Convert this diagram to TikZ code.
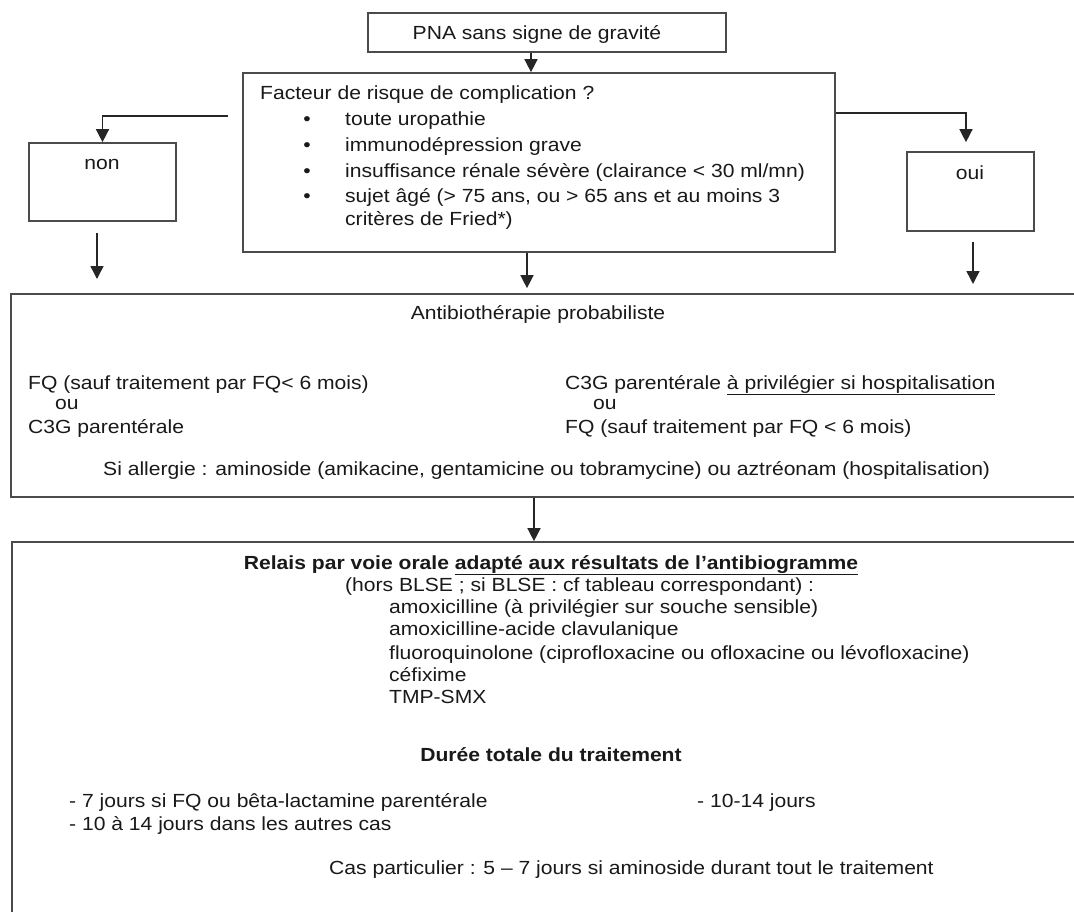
\documentclass[tikz,border=0pt]{standalone}
\usepackage{fontspec}
\setmainfont{Liberation Sans}[FakeStretch=1.11]
\usetikzlibrary{arrows.meta,fit}
\definecolor{ln}{RGB}{75,75,75}
\definecolor{tx}{RGB}{25,25,25}
\newcommand{\fs}{\fontsize{19}{22}\selectfont}
\tikzset{
  box/.style={draw=ln, line width=1.7pt, inner sep=0pt, fill=none},
  txt/.style={inner sep=0pt, anchor=base west, font=\fs, text=tx},
  ctxt/.style={inner sep=0pt, anchor=base, font=\fs, text=tx},
  arr/.style={draw=black!85, line width=1.5pt, -{Triangle[length=13pt,width=13pt]}},
  plain/.style={draw=ln, line width=1.6pt}
}
\begin{document}
\begin{tikzpicture}[x=1pt,y=-1pt]
\useasboundingbox (0,0) rectangle (1074,911);
\clip (0,0) rectangle (1074,911);
\fill[white] (0,0) rectangle (1074,911);
% boxes
\node[box, fit={(368,13) (726,52)}] (pna) {};
\node[box, fit={(243,73) (835,252)}] (fact) {};
\node[box, fit={(29,143) (176,221)}] (non) {};
\node[box, fit={(907,152) (1034,231)}] (oui) {};
\node[box, fit={(11,294) (1095,497)}] (mid) {};
\node[box, fit={(12,542) (1095,940)}] (bot) {};
% texts
\node[ctxt] (tpna) at (537,39) {PNA sans signe de gravité};
\node[txt] (tfact) at (260,99) {Facteur de risque de complication ?};
\node[ctxt] (b1) at (307,125) {\textbullet};
\node[ctxt] (b2) at (307,151) {\textbullet};
\node[ctxt] (b3) at (307,177) {\textbullet};
\node[ctxt] (b4) at (307,202) {\textbullet};
\node[txt] (f1) at (345,125) {toute uropathie};
\node[txt] (f2) at (345,151) {immunodépression grave};
\node[txt] (f3) at (345,177) {insuffisance rénale sévère (clairance < 30 ml/mn)};
\node[txt] (f4) at (345,202) {sujet âgé (> 75 ans, ou > 65 ans et au moins 3};
\node[txt] (f5) at (345,225) {critères de Fried*)};
\node[ctxt] (tnon) at (102,169) {non};
\node[ctxt] (toui) at (970,179) {oui};
\node[ctxt] (tab) at (538,319) {Antibiothérapie probabiliste};
\node[txt] (l1) at (28,389) {FQ (sauf traitement par FQ< 6 mois)};
\node[txt] (l2) at (55,409) {ou};
\node[txt] (l3) at (28,433) {C3G parentérale};
\node[txt] (r1) at (565,389) {C3G parentérale \underline{à privilégier si hospitalisation}};
\node[txt] (r2) at (593,409) {ou};
\node[txt] (r3) at (565,433) {FQ (sauf traitement par FQ < 6 mois)};
\node[txt] (all) at (103,475) {Si allergie : aminoside (amikacine, gentamicine ou tobramycine) ou aztréonam (hospitalisation)};
\node[ctxt, font=\fs\bfseries] (rel) at (551,569) {Relais par voie orale \underline{adapté aux résultats de l’antibiogramme}};
\node[txt] (hors) at (345,591) {(hors BLSE ; si BLSE : cf tableau correspondant) :};
\node[txt] (m1) at (389,613) {amoxicilline (à privilégier sur souche sensible)};
\node[txt] (m2) at (389,635) {amoxicilline-acide clavulanique};
\node[txt] (m3) at (389,659) {fluoroquinolone (ciprofloxacine ou ofloxacine ou lévofloxacine)};
\node[txt] (m4) at (389,681) {céfixime};
\node[txt] (m5) at (389,703) {TMP-SMX};
\node[ctxt, font=\fs\bfseries] (dur) at (551,761) {Durée totale du traitement};
\node[txt] (d1) at (69,807) {- 7 jours si FQ ou bêta-lactamine parentérale};
\node[txt] (d2) at (697,807) {- 10-14 jours};
\node[txt] (d3) at (69,830) {- 10 à 14 jours dans les autres cas};
\node[txt] (cas) at (329,874) {Cas particulier : 5 – 7 jours si aminoside durant tout le traitement};
% connectors
\coordinate (nst) at (228,116);
\coordinate (na) at (97,279);
\coordinate (ob) at (973,284);
\draw[arr] ([xshift=-16pt]pna.south) -- ([xshift=-8pt]fact.north);
\draw[arr] (nst) -| (non.north);
\draw[arr] ([yshift=49.5pt]fact.east) -| ([xshift=-4.5pt,yshift=9pt]oui.north);
\draw[arr] ([xshift=-5.5pt,yshift=-11pt]non.south) -- (na);
\draw[arr] ([xshift=2.5pt,yshift=-10pt]oui.south) -- (ob);
\draw[arr] ([xshift=-12pt]fact.south) -- ([xshift=-26pt,yshift=5pt]mid.north);
\draw[arr] ([xshift=-19pt]mid.south) -- ([xshift=-19.5pt]bot.north);
\end{tikzpicture}
\end{document}
